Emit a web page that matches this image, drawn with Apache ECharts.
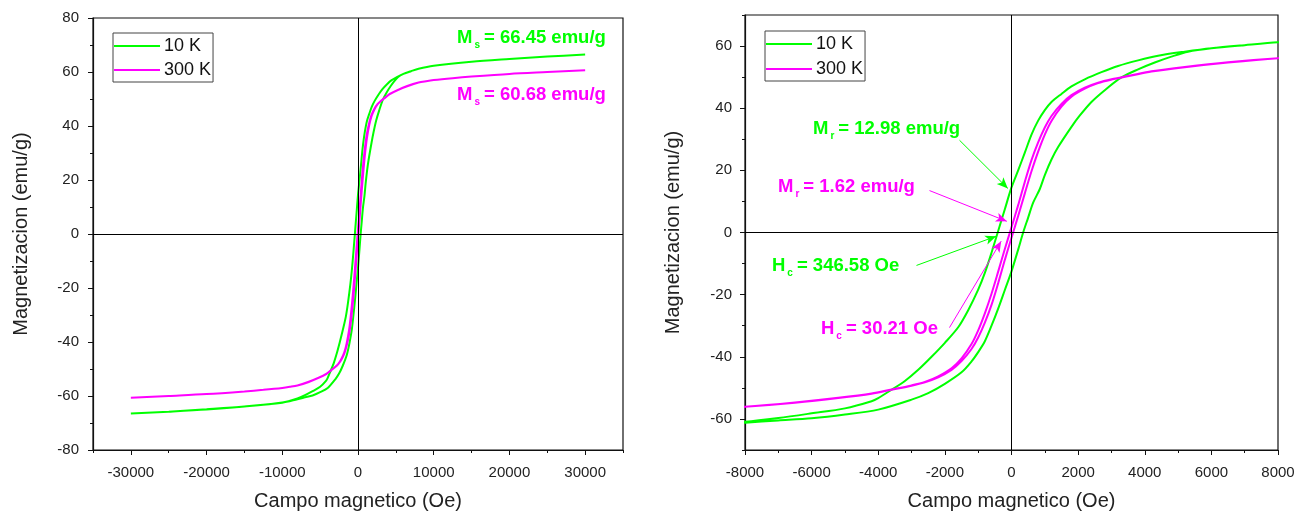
<!DOCTYPE html>
<html>
<head>
<meta charset="utf-8">
<script src="https://cdn.jsdelivr.net/npm/echarts@6/dist/echarts.min.js"></script>
<style>html,body{margin:0;padding:0;background:#fff}#c{width:1309px;height:512px}</style>
</head>
<body>
<div id="c"></div>
<script>
// ---------- data ----------
// 10 K loop, descending branch (from +H to -H)
const h10Desc = [30000,25000,20000,15000,10000,8000,7000,6000,5200,4400,3800,3200,2700,2200,1800,1500,1200,1000,800,600,400,200,0,-200,-400,-600,-800,-1000,-1300,-1600,-2000,-2400,-2800,-3200,-3600,-4000,-4200,-5000,-6000,-7000,-8000,-10000,-15000,-20000,-25000,-30000];
const m10Desc = [66.45,65.7,64.8,63.8,62.3,61.2,60.3,59.3,58.2,56.9,55.4,53.6,51.6,49.3,47.0,44.6,42.0,39.4,36.0,31.5,25.7,20.0,14.5,7.5,0.5,-6.5,-13.0,-18.4,-25.0,-30.5,-35.5,-40.0,-44.2,-47.8,-50.6,-53.3,-54.3,-56.6,-58.2,-59.7,-60.9,-62.4,-63.9,-65.0,-65.8,-66.5];
// 10 K loop, ascending branch (from -H to +H)
const h10Asc = [-30000,-25000,-20000,-15000,-10000,-8000,-7000,-6000,-5000,-4000,-3000,-2500,-2000,-1500,-1200,-1000,-800,-600,-400,-200,0,200,350,500,650,850,1000,1200,1400,1800,2040,2400,2800,3300,3800,4300,4800,5300,6000,7000,8000,10000,15000,20000,25000,30000];
const m10Asc = [-66.45,-65.8,-64.9,-63.9,-62.5,-61.2,-60.5,-59.8,-58.6,-57.0,-53.8,-51.7,-48.7,-45.0,-41.5,-38.5,-35.0,-30.0,-24.5,-18.5,-12.5,-5.5,0.0,4.8,9.6,14.0,18.5,23.5,27.5,34.0,37.5,42.0,45.8,49.9,52.5,54.7,56.6,58.2,59.3,60.3,61.2,62.3,63.8,64.8,65.7,66.45];
// 300 K loop, descending branch
const h300Desc = [30000,25000,20000,15000,12500,10000,9000,8000,6500,5200,4200,3600,3000,2600,2200,1800,1500,1200,1000,800,600,400,200,0,-200,-400,-600,-800,-1000,-1200,-1500,-1800,-2200,-2600,-3000,-3600,-4200,-5200,-6500,-8000,-9000,-10000,-12500,-15000,-20000,-25000,-30000];
const m300Desc = [60.68,60.0,59.3,58.3,57.7,57.0,56.6,56.1,54.8,53.3,51.9,50.6,49.3,48.2,46.6,44.2,41.4,37.5,33.8,29.0,23.3,16.3,8.8,1.7,-5.3,-12.6,-19.7,-26.0,-31.5,-35.9,-40.5,-43.7,-46.3,-48.1,-49.2,-50.5,-51.8,-53.2,-54.7,-56.1,-56.6,-57.0,-57.7,-58.3,-59.3,-60.0,-60.68];
// 300 K loop, ascending branch
const h300Asc = [-30000,-25000,-20000,-15000,-12500,-10000,-9000,-8000,-6500,-5200,-4200,-3600,-3000,-2600,-2200,-1800,-1500,-1200,-1000,-800,-600,-400,-200,0,200,400,600,800,1000,1200,1500,1800,2200,2600,3000,3600,4200,5200,6500,8000,9000,10000,12500,15000,20000,25000,30000];
const m300Asc = [-60.68,-60.0,-59.3,-58.3,-57.7,-57.0,-56.6,-56.1,-54.8,-53.3,-51.9,-50.6,-49.3,-48.2,-46.6,-44.2,-41.4,-37.5,-33.8,-29.0,-23.3,-16.3,-8.8,-1.7,5.3,12.6,19.7,26.0,31.5,35.9,40.5,43.7,46.3,48.1,49.2,50.5,51.8,53.2,54.7,56.1,56.6,57.0,57.7,58.3,59.3,60.0,60.68];

// tick labels
const leftXLabels = [-30000,-20000,-10000,0,10000,20000,30000];
const leftXMinor = [-35000,-25000,-15000,-5000,5000,15000,25000,35000];
const rightYLabels = [-60,-40,-20,0,20,40,60];
const rightYMinor = [-70,-50,-30,-10,10,30,50,70];

// annotation arrows (start -> tip, in data units of right panel)
const arrowMr10 = [[-1561,29.7],[-110,14.2]];
const arrowMr300 = [[-2462,13.5],[-140,3.6]];
const arrowHc10 = [[-2852,-10.6],[-460,-1.2]];
const arrowHc300 = [[-1862,-30.6],[-310,-2.8]];

// ---------- build ----------
function loop(hd, md, ha, ma) {
  const a = hd.map((h, i) => [h, md[i]]);
  const b = ha.map((h, i) => [h, ma[i]]);
  return a.concat(b);
}
const loop10 = loop(h10Desc, m10Desc, h10Asc, m10Asc);
const loop300 = loop(h300Desc, m300Desc, h300Asc, m300Asc);

const GREEN = '#00ff00', MAG = '#ff00ff';
const FONT = 'Liberation Sans, Arial, sans-serif';
const plain = v => String(v);

const labelStyle = { color: '#222', fontSize: 15, fontFamily: FONT, formatter: plain };
const nameStyle = { color: '#222', fontSize: 20, fontFamily: FONT };
const axLine = { show: true, onZero: false, lineStyle: { color: '#111', width: 1.2 } };

const zeroLine = {
  silent: true, symbol: ['none', 'none'], animation: false,
  label: { show: false },
  lineStyle: { color: '#000', width: 1, type: 'solid' },
  emphasis: { disabled: true },
  data: [{ xAxis: 0 }, { yAxis: 0 }]
};

function arrowLine(color, arrs) {
  return {
    silent: true, symbol: ['none', 'arrow'], symbolSize: [7, 11], animation: false,
    label: { show: false },
    lineStyle: { color: color, width: 1, type: 'solid' },
    emphasis: { disabled: true },
    data: arrs.map(a => [{ coord: a[0] }, { coord: a[1] }])
  };
}

function ann(x, y, color, main, sub, rest) {
  return {
    type: 'text', left: x, top: y, z: 100,
    style: {
      text: '{a|' + main + '}{b|' + sub + '}{a|' + rest + '}',
      rich: {
        a: { fontSize: 18.5, fontWeight: 'bold', fill: color, fontFamily: FONT, lineHeight: 20 },
        b: { fontSize: 10, fontWeight: 'bold', fill: color, fontFamily: FONT, lineHeight: 20, padding: [14, 4, 0, 2] }
      }
    }
  };
}

function legendAt(x, y, gap) {
  return {
    orient: 'vertical', left: x, top: y, padding: [4, 2, 3, 1], icon: 'rect',
    itemWidth: 46, itemHeight: 2, itemGap: gap,
    borderColor: '#444', borderWidth: 1, selectedMode: false,
    textStyle: { fontSize: 18, color: '#111', fontFamily: FONT, padding: [0, 0, 0, -1] },
    data: ['10 K', '300 K']
  };
}

const chart = echarts.init(document.getElementById('c'), null, { renderer: 'canvas' });
chart.setOption({
  animation: false,
  backgroundColor: '#fff',
  grid: [
    { left: 93, top: 18, width: 530, height: 432, show: true, borderColor: '#111', borderWidth: 1.2,
      containLabel: false, outerBoundsMode: 'none' },
    { left: 745, top: 15, width: 533, height: 435, show: true, borderColor: '#111', borderWidth: 1.2,
      containLabel: false, outerBoundsMode: 'none' }
  ],
  legend: [legendAt(113, 33, 6), legendAt(765, 31, 7)],
  xAxis: [
    { gridIndex: 0, type: 'value', min: -35000, max: 35000, position: 'bottom',
      name: 'Campo magnetico (Oe)', nameLocation: 'middle', nameGap: 41, nameTextStyle: nameStyle,
      axisLine: axLine, splitLine: { show: false },
      axisTick: { show: true, length: 5, customValues: leftXLabels, lineStyle: { color: '#111' } },
      axisLabel: { customValues: leftXLabels, margin: 15, ...labelStyle } },
    { gridIndex: 0, type: 'value', min: -35000, max: 35000, position: 'bottom',
      axisLine: { show: false, onZero: false }, splitLine: { show: false }, axisLabel: { show: false },
      axisTick: { show: true, length: 3, customValues: leftXMinor, lineStyle: { color: '#111' } } },
    { gridIndex: 1, type: 'value', min: -8000, max: 8000, interval: 2000, position: 'bottom',
      name: 'Campo magnetico (Oe)', nameLocation: 'middle', nameGap: 41, nameTextStyle: nameStyle,
      axisLine: axLine, splitLine: { show: false },
      axisTick: { show: true, length: 5, lineStyle: { color: '#111' } },
      minorTick: { show: true, splitNumber: 2, length: 3, lineStyle: { color: '#111' } },
      axisLabel: { margin: 15, ...labelStyle } }
  ],
  yAxis: [
    { gridIndex: 0, type: 'value', min: -80, max: 80, interval: 20, position: 'left',
      name: 'Magnetizacion (emu/g)', nameLocation: 'middle', nameGap: 62, nameTextStyle: nameStyle,
      axisLine: axLine, splitLine: { show: false },
      axisTick: { show: true, length: 5, lineStyle: { color: '#111' } },
      minorTick: { show: true, splitNumber: 2, length: 3, lineStyle: { color: '#111' } },
      axisLabel: { margin: 14, ...labelStyle } },
    { gridIndex: 1, type: 'value', min: -70, max: 70, position: 'left',
      name: 'Magnetizacion (emu/g)', nameLocation: 'middle', nameGap: 62, nameTextStyle: nameStyle,
      axisLine: axLine, splitLine: { show: false },
      axisTick: { show: true, length: 5, customValues: rightYLabels, lineStyle: { color: '#111' } },
      axisLabel: { customValues: rightYLabels, margin: 13, ...labelStyle } },
    { gridIndex: 1, type: 'value', min: -70, max: 70, position: 'left',
      axisLine: { show: false, onZero: false }, splitLine: { show: false }, axisLabel: { show: false },
      axisTick: { show: true, length: 3, customValues: rightYMinor, lineStyle: { color: '#111' } } }
  ],
  series: [
    { name: '10 K', type: 'line', xAxisIndex: 0, yAxisIndex: 0, data: loop10, symbol: 'none', smooth: 0.3,
      lineStyle: { color: GREEN, width: 2 }, itemStyle: { color: GREEN }, z: 3, markLine: zeroLine },
    { name: '300 K', type: 'line', xAxisIndex: 0, yAxisIndex: 0, data: loop300, symbol: 'none', smooth: 0.3,
      lineStyle: { color: MAG, width: 2 }, itemStyle: { color: MAG }, z: 4 },
    { name: '10 K', type: 'line', xAxisIndex: 2, yAxisIndex: 1, data: loop10, symbol: 'none', smooth: 0.3,
      lineStyle: { color: GREEN, width: 2 }, itemStyle: { color: GREEN }, z: 3, markLine: zeroLine },
    { name: '300 K', type: 'line', xAxisIndex: 2, yAxisIndex: 1, data: loop300, symbol: 'none', smooth: 0.3,
      lineStyle: { color: MAG, width: 2 }, itemStyle: { color: MAG }, z: 4 },
    { name: 'arrows10', type: 'line', xAxisIndex: 2, yAxisIndex: 1, data: [], symbol: 'none',
      markLine: arrowLine(GREEN, [arrowMr10, arrowHc10]) },
    { name: 'arrows300', type: 'line', xAxisIndex: 2, yAxisIndex: 1, data: [], symbol: 'none',
      markLine: arrowLine(MAG, [arrowMr300, arrowHc300]) }
  ],
  graphic: [
    ann(457, 26, GREEN, 'M', 's', '= 66.45 emu/g'),
    ann(457, 83, MAG, 'M', 's', '= 60.68 emu/g'),
    ann(813, 117, GREEN, 'M', 'r', '= 12.98 emu/g'),
    ann(778, 175, MAG, 'M', 'r', '= 1.62 emu/g'),
    ann(772, 254, GREEN, 'H', 'c', '= 346.58 Oe'),
    ann(821, 317, MAG, 'H', 'c', '= 30.21 Oe')
  ]
});
</script>
</body>
</html>
